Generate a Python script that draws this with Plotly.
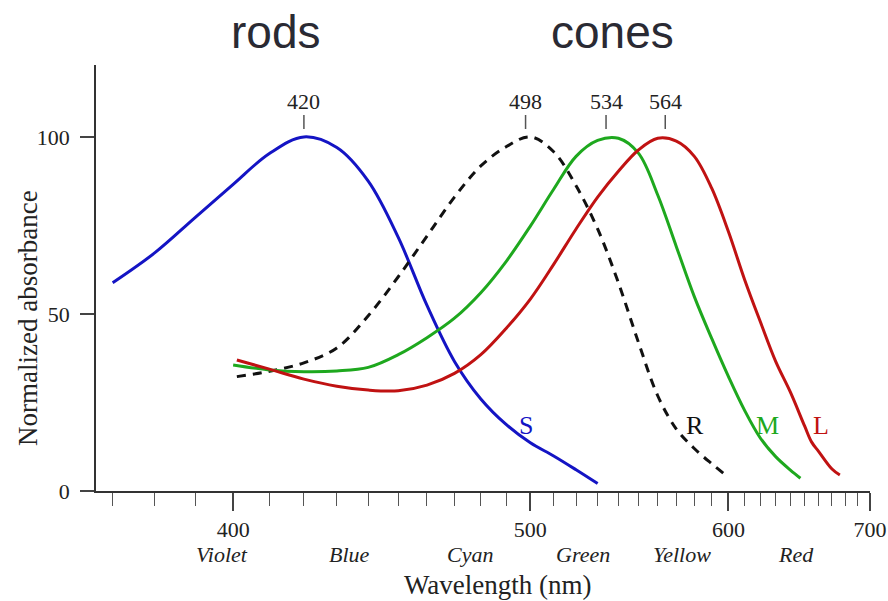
import plotly.graph_objects as go

# ---- data (wavelength in nm, normalized absorbance in %) ----
s_wl = [370, 380, 390, 400, 410, 420, 430, 440, 450, 460, 470, 480, 490, 500, 510, 520, 530]
s_val = [58.8, 67.3, 77.2, 86.6, 95.3, 100, 97, 87.5, 71.6, 52.4, 36.6, 26, 18.8, 13.6, 9.9, 6.0, 2.1]

r_wl = [401, 410, 420, 430, 440, 450, 460, 470, 480, 490, 500, 510, 520, 530, 540, 550, 560, 570, 580, 590, 597]
r_val = [32.3, 33.8, 36.2, 40.4, 49.5, 60.5, 72, 83, 91.8, 97.2, 100, 95.8, 86.2, 74, 58.8, 42, 26.9, 17.5, 12, 7.7, 5.0]

m_wl = [400, 410, 420, 430, 440, 450, 460, 470, 480, 490, 500, 510, 520, 530, 540, 550, 560, 570, 580, 590, 600, 610, 620, 630, 640, 647]
m_val = [35.6, 34.2, 33.7, 33.9, 34.9, 38.5, 43.3, 48.8, 56, 64.8, 74.8, 85.2, 94.5, 99, 99.6, 95.4, 83.6, 69, 54.9, 43.1, 32.3, 22.7, 14.9, 9.7, 5.9, 3.6]

l_wl = [401, 410, 420, 430, 440, 450, 460, 470, 480, 490, 500, 510, 520, 530, 540, 550, 560, 570, 580, 590, 600, 610, 620, 630, 640, 650, 655, 660, 670, 676]
l_val = [37, 34.4, 31.6, 29.6, 28.5, 28.3, 29.9, 33.2, 38.5, 45.9, 54.2, 64, 74, 83, 90.3, 96.3, 99.6, 98.8, 94.5, 85.5, 73.2, 59.6, 47.7, 36.6, 27.9, 18.3, 13.8, 11.2, 6.2, 4.5]

peak_wl = [420, 498, 534, 564]
peak_labels = ["420", "498", "534", "564"]

major_ticks = [400, 500, 600, 700]
minor_ticks = list(range(370, 701, 10))
y_ticks = [0, 50, 100]

color_names = ["Violet", "Blue", "Cyan", "Green", "Yellow", "Red"]
color_name_wl = [397, 434, 476, 523, 573, 644]

curve_names = ["S", "R", "M", "L"]
curve_name_wl = [498, 580.5, 624.5, 661.5]

# ---- axis transform: linear in wavenumber ----
def wn(wls):
    return [-1e4 / w for w in wls]

BLUE = "#1414c4"
GREEN = "#1ea81e"
RED = "#c01212"
BLACK = "#111111"
SERIF = "Liberation Serif"
TXT = "#222222"

fig = go.Figure()
line_kw = dict(shape="spline", smoothing=1.0, width=3)
fig.add_trace(go.Scatter(x=wn(s_wl), y=s_val, mode="lines", line=dict(color=BLUE, **line_kw)))
fig.add_trace(go.Scatter(x=wn(r_wl), y=r_val, mode="lines", line=dict(color=BLACK, dash="9px,7px", **line_kw)))
fig.add_trace(go.Scatter(x=wn(m_wl), y=m_val, mode="lines", line=dict(color=GREEN, **line_kw)))
fig.add_trace(go.Scatter(x=wn(l_wl), y=l_val, mode="lines", line=dict(color=RED, **line_kw)))

annotations = []
for wl, lab in zip(peak_wl, peak_labels):
    annotations.append(dict(x=wn([wl])[0], y=102.2, xref="x", yref="y", text=lab,
                            showarrow=True, arrowhead=0, arrowwidth=1.5, arrowcolor="#555555",
                            ax=0, ay=-28, font=dict(family=SERIF, size=22, color=TXT)))
for wl, lab in zip(color_name_wl, color_names):
    annotations.append(dict(x=wn([wl])[0], y=-0.150, xref="x", yref="paper", text="<i>" + lab + "</i>",
                            showarrow=False, xanchor="center", yanchor="middle",
                            font=dict(family=SERIF, size=22, color=TXT)))
curve_colors = [BLUE, BLACK, GREEN, RED]
for wl, lab, c in zip(curve_name_wl, curve_names, curve_colors):
    annotations.append(dict(x=wn([wl])[0], y=18.6, xref="x", yref="y", text=lab,
                            showarrow=False, xanchor="center", yanchor="middle",
                            font=dict(family=SERIF, size=26, color=c)))
annotations.append(dict(x=0.5, y=-0.2207, xref="paper", yref="paper", text="Wavelength (nm)",
                        showarrow=False, xanchor="center", yanchor="middle",
                        xshift=(498 - 483), font=dict(family=SERIF, size=27, color=TXT)))
annotations.append(dict(x=-0.0879, y=0.406, xref="paper", yref="paper", text="Normalized absorbance",
                        showarrow=False, xanchor="center", yanchor="middle", textangle=-90,
                        font=dict(family=SERIF, size=27, color=TXT)))
annotations.append(dict(x=0.2313, y=1.0775, xref="paper", yref="paper", text="rods",
                        showarrow=False, xanchor="center", yanchor="middle",
                        font=dict(family="Liberation Sans", size=46, color="#2a2a33")))
annotations.append(dict(x=0.6667, y=1.0775, xref="paper", yref="paper", text="cones",
                        showarrow=False, xanchor="center", yanchor="middle",
                        font=dict(family="Liberation Sans", size=46, color="#2a2a33")))

fig.update_layout(
    width=888, height=601,
    margin=dict(l=96, r=18, t=65, b=110, autoexpand=False),
    paper_bgcolor="white", plot_bgcolor="white",
    showlegend=False,
    annotations=annotations,
    xaxis=dict(
        range=[-1e4 / 366.2, -1e4 / 700], automargin=False,
        tickmode="array", tickvals=wn(major_ticks), ticktext=[str(t) for t in major_ticks],
        ticks="outside", ticklen=18, tickwidth=1.5, tickcolor="#444444",
        minor=dict(tickmode="array", tickvals=wn(minor_ticks), ticks="outside",
                   ticklen=13, tickwidth=1.2, tickcolor="#555555"),
        showline=True, linecolor="#333333", linewidth=1.5,
        showgrid=False, zeroline=False,
        tickfont=dict(family=SERIF, size=22, color=TXT),
    ),
    yaxis=dict(
        range=[0, 120.3], automargin=False,
        tickmode="array", tickvals=y_ticks, ticktext=[str(t) for t in y_ticks],
        ticks="outside", ticklen=14, tickwidth=1.5, tickcolor="#444444",
        ticklabelstandoff=6,
        showline=True, linecolor="#333333", linewidth=1.5,
        showgrid=False, zeroline=False,
        tickfont=dict(family=SERIF, size=22, color=TXT),
    ),
)

fig.write_html("out.html")
